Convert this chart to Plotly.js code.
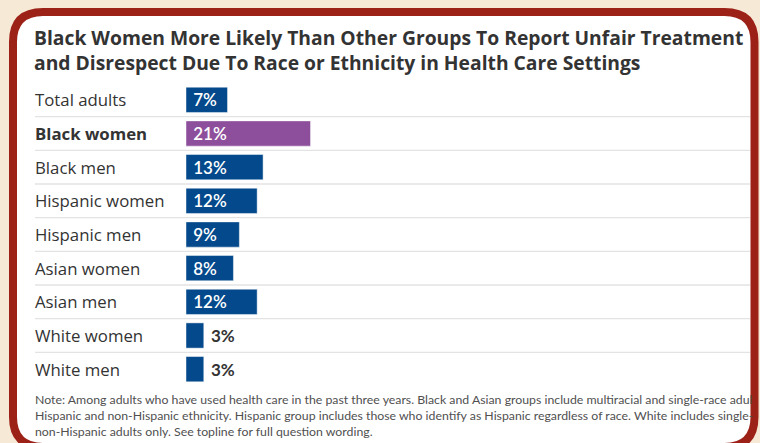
<!DOCTYPE html>
<html>
<head>
<meta charset="utf-8">
<script src="https://cdn.plot.ly/plotly-3.0.1.min.js"></script>
<style>html,body{margin:0;padding:0;background:#f6e9d5;}#chart{width:760px;height:443px;}</style>
</head>
<body>
<div id="chart"></div>
<script>
// ---- data ----
const categories = ['Total adults','Black women','Black men','Hispanic women','Hispanic men','Asian women','Asian men','White women','White men'];
const values = [7, 21, 13, 12, 9, 8, 12, 3, 3];
const highlighted = 'Black women';
const titleText = 'Black Women More Likely Than Other Groups To Report Unfair Treatment<br>and Disrespect Due To Race or Ethnicity in Health Care Settings';
const noteText = 'Note: Among adults who have used health care in the past three years. Black and Asian groups include multiracial and single-race adults of<br>Hispanic and non-Hispanic ethnicity. Hispanic group includes those who identify as Hispanic regardless of race. White includes single-race,<br>non-Hispanic adults only. See topline for full question wording.';

// ---- style ----
const FONT = '"Open Sans", "Noto Sans", sans-serif';
const LFONT = 'Lato, "Open Sans", sans-serif';
const BLUE = '#03498b', PURPLE = '#8d4f9b', RED = '#9c2218', BEIGE = '#f6e9d5';
const Wpx = 760, Hpx = 443;
const M = {l: 186, r: 10, t: 83, b: 57};
const PW = Wpx - M.l - M.r, PH = Hpx - M.t - M.b;
const px = x => (x - M.l) / PW;
const py = y => (Hpx - M.b - y) / PH;

function framePath(x0, y0, x1, y1, r) {
  const P = (x, y) => px(x).toFixed(5) + ',' + py(y).toFixed(5);
  return 'M' + P(x0, y0 + r) + ' Q' + P(x0, y0) + ' ' + P(x0 + r, y0) +
    ' L' + P(x1 - r, y0) + ' Q' + P(x1, y0) + ' ' + P(x1, y0 + r) +
    ' L' + P(x1, y1 - r) + ' Q' + P(x1, y1) + ' ' + P(x1 - r, y1) +
    ' L' + P(x0 + r, y1) + ' Q' + P(x0, y1) + ' ' + P(x0, y1 - r) + ' Z';
}

const colors = categories.map(c => c === highlighted ? PURPLE : BLUE);
const textPos = values.map(v => v >= 5 ? 'inside' : 'outside');

const trace = {
  type: 'bar', orientation: 'h',
  x: values, y: categories,
  marker: {color: colors, line: {color: 'rgba(255,255,255,0.45)', width: 1}},
  texttemplate: '\u00a0%{x}%',
  textposition: textPos,
  insidetextanchor: 'start',
  insidetextfont: {family: LFONT, size: 17, color: '#ffffff', weight: 600},
  outsidetextfont: {family: LFONT, size: 17, color: '#333333', weight: 700},
  constraintext: 'none',
  cliponaxis: false,
  hoverinfo: 'none'
};

const shapes = [{
  type: 'path', xref: 'paper', yref: 'paper', layer: 'below',
  path: framePath(13, 12, 754.5, 447, 30),
  fillcolor: '#ffffff', line: {color: RED, width: 8}
}];
for (let i = 0; i < categories.length - 1; i++) {
  shapes.push({type: 'line', xref: 'paper', yref: 'y', layer: 'below',
    x0: px(35), x1: 1, y0: i + 0.5, y1: i + 0.5,
    line: {color: '#e3e3e3', width: 1.3}});
}

const annotations = categories.map(c => ({
  xref: 'paper', yref: 'y', x: px(33), y: c, xanchor: 'left', yanchor: 'middle',
  text: c === highlighted ? '<b>' + c + '</b>' : c, showarrow: false,
  font: {family: FONT, size: 16.8, color: '#333333'}
}));
annotations.push({
  xref: 'paper', yref: 'paper', x: px(33), y: py(390), xanchor: 'left', yanchor: 'top',
  width: 718, align: 'left', text: noteText, showarrow: false,
  font: {family: LFONT, size: 12.3, color: '#505050'}
});

const layout = {
  width: Wpx, height: Hpx,
  margin: M,
  paper_bgcolor: BEIGE, plot_bgcolor: 'rgba(0,0,0,0)',
  title: {text: titleText, xref: 'container', yref: 'container', x: 34 / Wpx, xanchor: 'left',
    y: 1 - 45 / Hpx, yanchor: 'top',
    font: {family: FONT, size: 19.3, color: '#333333', weight: 700}},
  xaxis: {range: [0, PW / 5.93], visible: false, fixedrange: true},
  yaxis: {autorange: false, range: [categories.length - 0.5, -0.5], type: 'category',
    showticklabels: false, showgrid: false, zeroline: false, showline: false, ticks: '', fixedrange: true},
  bargap: 0.25,
  showlegend: false,
  shapes: shapes,
  annotations: annotations
};

Plotly.newPlot('chart', [trace], layout, {displayModeBar: false, staticPlot: true});
</script>
</body>
</html>
